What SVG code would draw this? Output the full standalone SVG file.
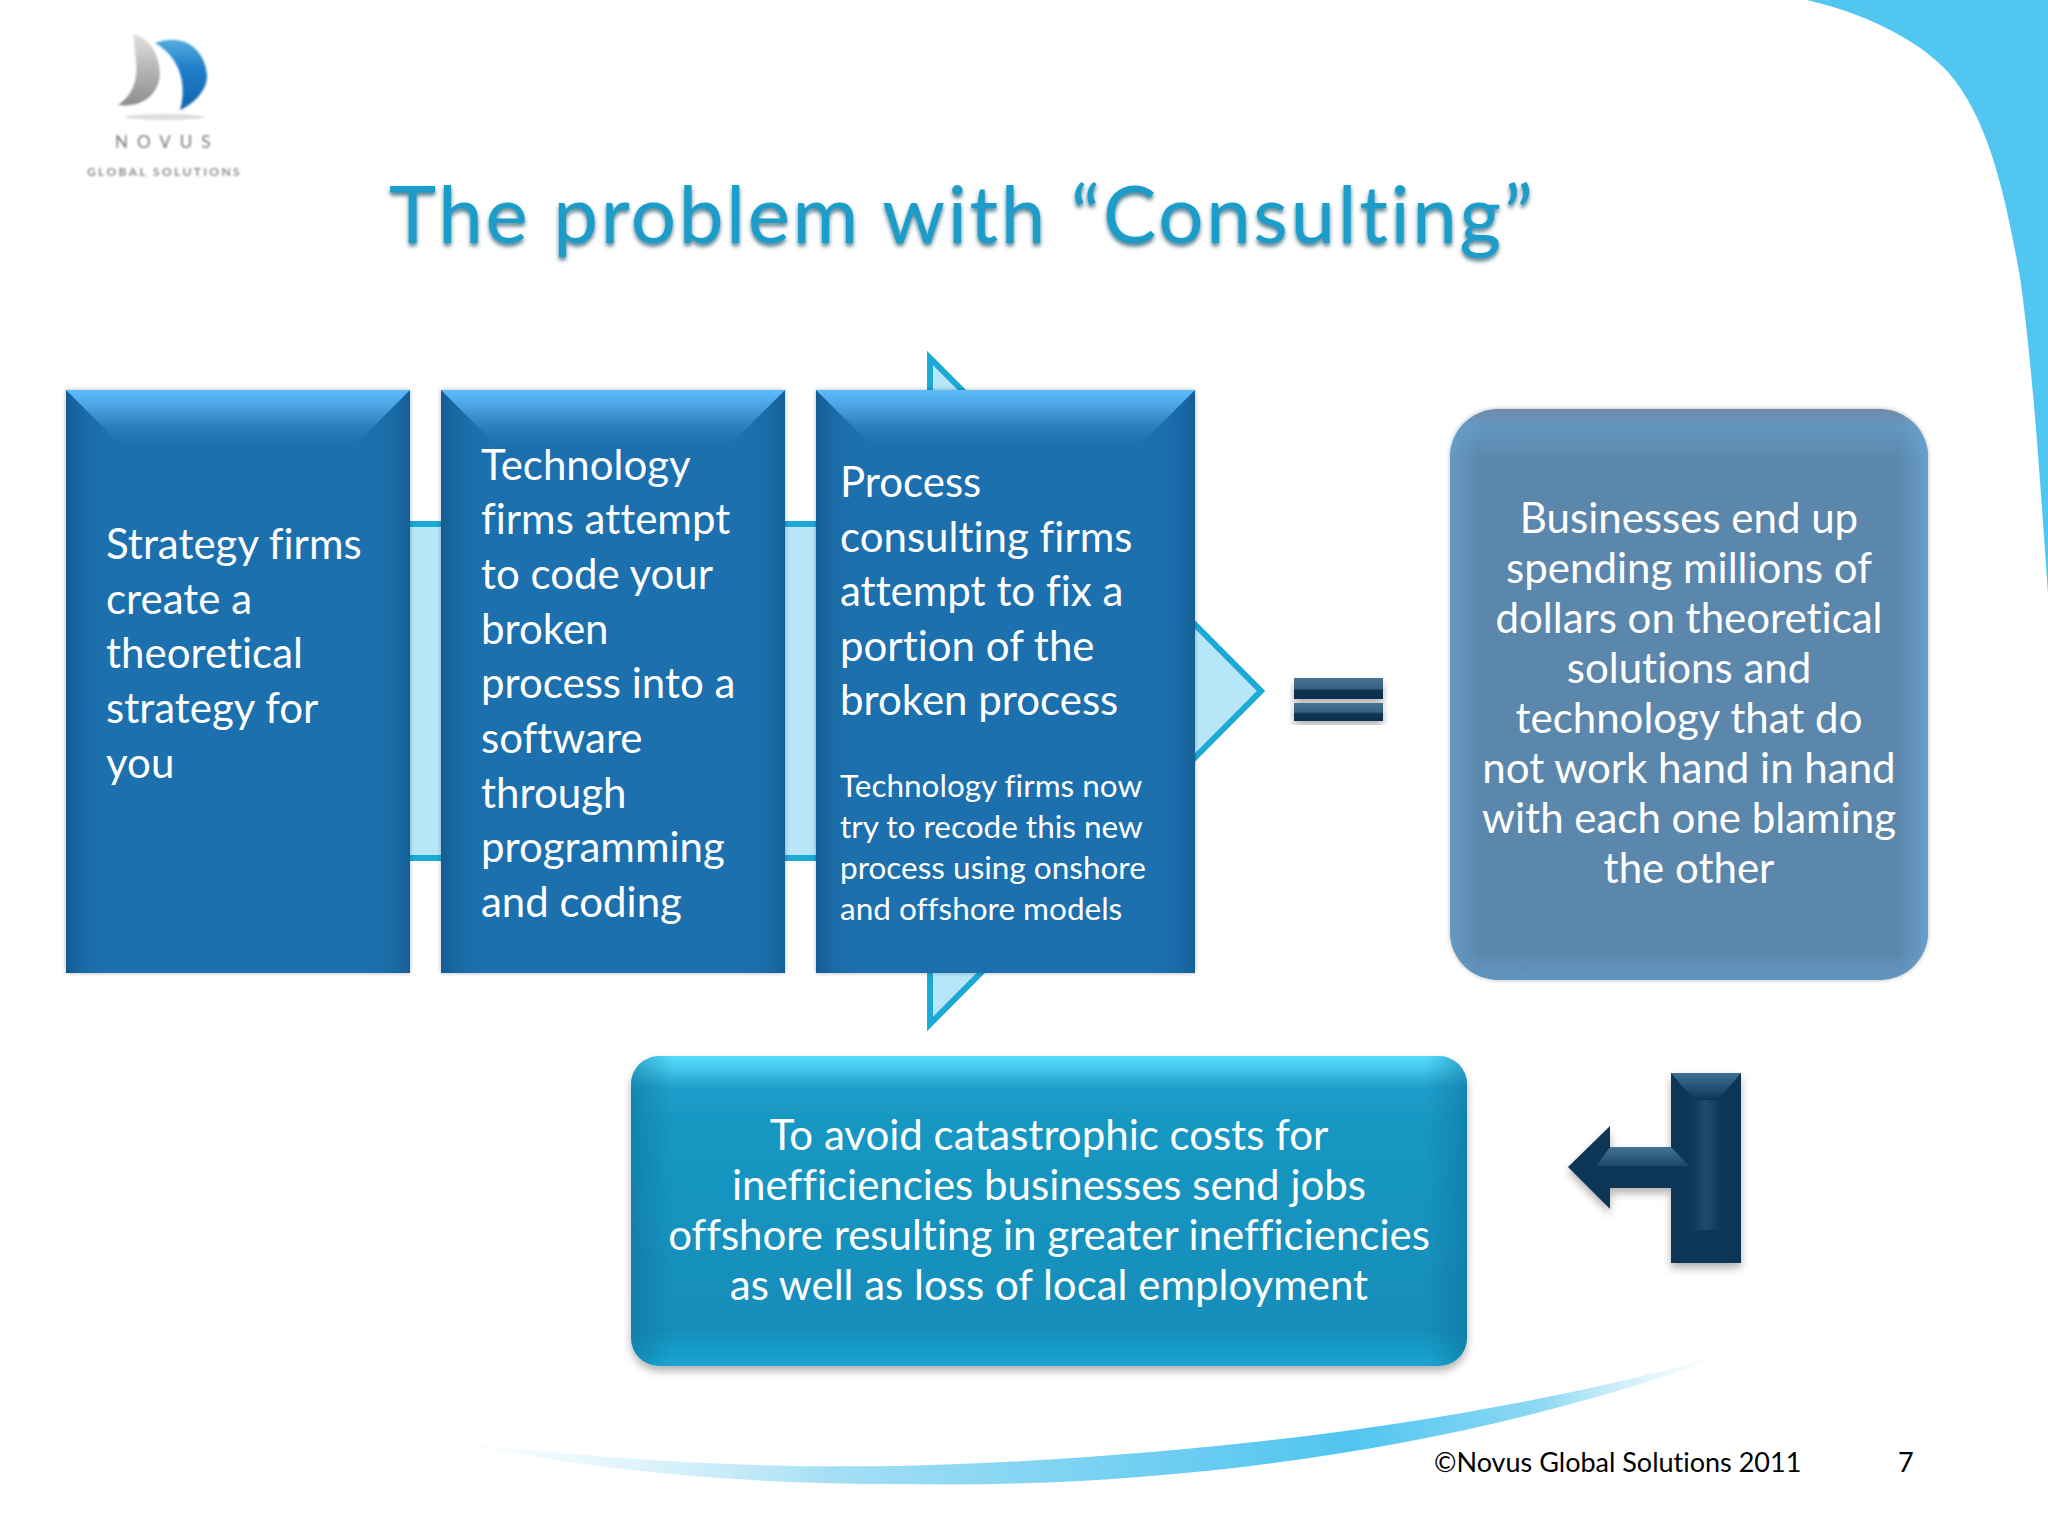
<svg xmlns="http://www.w3.org/2000/svg" width="2048" height="1536" viewBox="0 0 2048 1536">
<defs>
<style>
text{font-family:Lato,"Open Sans",sans-serif;font-variant-ligatures:none}
.w{fill:#fff;font-size:42px}
.s{fill:#fff;font-size:31.5px}
.c{text-anchor:middle}
.f{fill:#000;font-size:27px}
</style>
<linearGradient id="blueTop" x1="0" y1="0" x2="0" y2="1"><stop offset="0" stop-color="#5cbcff"/><stop offset=".3" stop-color="#4aa3e0"/><stop offset=".65" stop-color="#2d80bc"/><stop offset="1" stop-color="#1c6fad"/></linearGradient>
<linearGradient id="edgeL" x1="0" y1="0" x2="1" y2="0"><stop offset="0" stop-color="#0f5486" stop-opacity=".7"/><stop offset="1" stop-color="#1c6fad" stop-opacity="0"/></linearGradient>
<linearGradient id="edgeR" x1="1" y1="0" x2="0" y2="0"><stop offset="0" stop-color="#0f5486" stop-opacity=".6"/><stop offset="1" stop-color="#1c6fad" stop-opacity="0"/></linearGradient>
<linearGradient id="teal" x1="0" y1="0" x2="0" y2="1"><stop offset="0" stop-color="#55dcff"/><stop offset=".035" stop-color="#47cbf0"/><stop offset=".1" stop-color="#1f9fcb"/><stop offset=".2" stop-color="#1898c3"/><stop offset=".88" stop-color="#138dba"/><stop offset="1" stop-color="#1ba6d2"/></linearGradient>
<linearGradient id="slate" x1="0" y1="0" x2="0" y2="1"><stop offset="0" stop-color="#6f8ca8"/><stop offset=".03" stop-color="#6397bf"/><stop offset=".09" stop-color="#5b87ad"/><stop offset=".95" stop-color="#5b87ad"/><stop offset="1" stop-color="#6296c0"/></linearGradient>
<linearGradient id="sideLight" x1="0" y1="0" x2="1" y2="0"><stop offset="0" stop-color="#6ba6d2" stop-opacity=".6"/><stop offset=".06" stop-color="#6ba6d2" stop-opacity="0"/><stop offset=".94" stop-color="#6ba6d2" stop-opacity="0"/><stop offset="1" stop-color="#6ba6d2" stop-opacity=".8"/></linearGradient>
<linearGradient id="sideDark" x1="0" y1="0" x2="1" y2="0"><stop offset="0" stop-color="#0d6f98" stop-opacity=".5"/><stop offset=".05" stop-color="#0d6f98" stop-opacity="0"/><stop offset=".95" stop-color="#0d6f98" stop-opacity="0"/><stop offset="1" stop-color="#0d6f98" stop-opacity=".5"/></linearGradient>
<linearGradient id="navyTop" x1="0" y1="0" x2="0" y2="1"><stop offset="0" stop-color="#3d7195"/><stop offset="1" stop-color="#0f3555"/></linearGradient>
<linearGradient id="navyBar" x1="0" y1="0" x2="0" y2="1"><stop offset="0" stop-color="#497292"/><stop offset=".5" stop-color="#36607e"/><stop offset=".6" stop-color="#0f3454"/><stop offset="1" stop-color="#0d2e4d"/></linearGradient>
<linearGradient id="navyShaft" x1="0" y1="0" x2="0" y2="1"><stop offset="0" stop-color="#447493"/><stop offset="1" stop-color="#1d4868"/></linearGradient>
<linearGradient id="navyGlow" x1="0" y1="0" x2="1" y2="0"><stop offset="0" stop-color="#3d6f90" stop-opacity="0"/><stop offset=".5" stop-color="#3d6f90" stop-opacity=".4"/><stop offset="1" stop-color="#3d6f90" stop-opacity="0"/></linearGradient>
<linearGradient id="swoosh" gradientUnits="userSpaceOnUse" x1="440" y1="0" x2="1740" y2="0"><stop offset="0" stop-color="#d8f1fb" stop-opacity="0"/><stop offset=".3" stop-color="#a5dff5"/><stop offset=".7" stop-color="#50c5f0"/><stop offset=".85" stop-color="#8fd9f4"/><stop offset="1" stop-color="#e4f6fc" stop-opacity="0"/></linearGradient>
<linearGradient id="grey" x1="0" y1="0" x2="0" y2="1"><stop offset="0" stop-color="#e2e2e2"/><stop offset=".5" stop-color="#b5b5b5"/><stop offset="1" stop-color="#8d8d8d"/></linearGradient>
<linearGradient id="blueLogo" x1="0" y1="0" x2="0" y2="1"><stop offset="0" stop-color="#55acdf"/><stop offset=".4" stop-color="#2180c9"/><stop offset="1" stop-color="#1263ae"/></linearGradient>
<filter id="shadow" x="-5%" y="-5%" width="110%" height="112%"><feDropShadow dx="0" dy="5" stdDeviation="4" flood-color="#000" flood-opacity=".3"/></filter>
<filter id="rim" x="-5%" y="-5%" width="110%" height="112%"><feDropShadow dx="0" dy="0" stdDeviation="2" flood-color="#000" flood-opacity=".3"/></filter>
<filter id="titleShadow" x="-3%" y="-10%" width="106%" height="130%"><feDropShadow dx="0" dy="3" stdDeviation="2" flood-color="#0c4a63" flood-opacity=".75"/></filter>
<filter id="blur"><feGaussianBlur stdDeviation="1.1"/></filter>
</defs>
<rect width="2048" height="1536" fill="#fff"/>
<path id="corner-swoosh" d="M1807 0C1860 12 1917 38 1948 72C1990 120 2006 200 2020 277C2033 370 2040 480 2048 594V0Z" fill="#50c6f1"/>
<path id="bottom-swoosh" d="M440 1440C620 1462 760 1468 900 1466C1200 1458 1500 1420 1740 1350C1500 1440 1200 1490 900 1484C740 1484 600 1472 440 1440Z" fill="url(#swoosh)"/>
<g id="logo">
<g filter="url(#blur)">
<path d="M133 34C150 38 160 55 160 75C158 95 142 108 118 105C133 95 138 80 136 60C135 50 134 42 133 34Z" fill="url(#grey)"/>
<path d="M155 43C185 32 205 50 207 75C208 92 190 106 180 110C186 90 184 60 155 43Z" fill="url(#blueLogo)"/>
<ellipse cx="165" cy="117" rx="40" ry="3" fill="#ddd"/>
<text x="115" y="148" font-size="17" fill="#777" letter-spacing="9">NOVUS</text>
<text x="87" y="176" font-size="12" font-weight="700" fill="#8a8a8a" letter-spacing="2.4">GLOBAL SOLUTIONS</text>
</g>
</g>
<text id="title" x="389" y="243" font-size="80" fill="#1a9cc8" filter="url(#titleShadow)" textLength="1144">The problem with “Consulting”</text>
<g id="connectors">
<path id="process-arrow" d="M300 524H930V358L1261 691L930 1024V858H300Z" fill="#b7e6f9" stroke="#1ba9d6" stroke-width="6"/>
</g>
<g id="box-strategy">
<g filter="url(#rim)"><rect x="66" y="390" width="344" height="583" fill="#1c6fad"/></g>
<rect x="66" y="390" width="40" height="583" fill="url(#edgeL)"/><rect x="370" y="390" width="40" height="583" fill="url(#edgeR)"/>
<path d="M66 390H410L355 445H121Z" fill="url(#blueTop)"/>
<text class="w"><tspan x="106" y="559">Strategy firms</tspan><tspan x="106" y="614">create a</tspan><tspan x="106" y="668">theoretical</tspan><tspan x="106" y="723">strategy for</tspan><tspan x="106" y="778">you</tspan></text>
</g>
<g id="box-technology">
<g filter="url(#rim)"><rect x="441" y="390" width="344" height="583" fill="#1c6fad"/></g>
<rect x="441" y="390" width="40" height="583" fill="url(#edgeL)"/><rect x="745" y="390" width="40" height="583" fill="url(#edgeR)"/>
<path d="M441 390H785L730 445H496Z" fill="url(#blueTop)"/>
<text class="w"><tspan x="481" y="480">Technology</tspan><tspan x="481" y="534">firms attempt</tspan><tspan x="481" y="589">to code your</tspan><tspan x="481" y="644">broken</tspan><tspan x="481" y="698">process into a</tspan><tspan x="481" y="753">software</tspan><tspan x="481" y="808">through</tspan><tspan x="481" y="862">programming</tspan><tspan x="481" y="917">and coding</tspan></text>
</g>
<g id="box-process">
<g filter="url(#rim)"><rect x="816" y="390" width="379" height="583" fill="#1c6fad"/></g>
<rect x="816" y="390" width="40" height="583" fill="url(#edgeL)"/><rect x="1155" y="390" width="40" height="583" fill="url(#edgeR)"/>
<path d="M816 390H1195L1140 445H871Z" fill="url(#blueTop)"/>
<text class="w"><tspan x="840" y="497">Process</tspan><tspan x="840" y="552">consulting firms</tspan><tspan x="840" y="606">attempt to fix a</tspan><tspan x="840" y="661">portion of the</tspan><tspan x="840" y="715">broken process</tspan></text>
<text class="s"><tspan x="840" y="797">Technology firms now</tspan><tspan x="840" y="838">try to recode this new</tspan><tspan x="840" y="879">process using onshore</tspan><tspan x="840" y="920">and offshore models</tspan></text>
</g>
<g id="equals" filter="url(#shadow)">
<rect x="1294" y="678" width="89" height="21" fill="url(#navyBar)"/>
<rect x="1294" y="703" width="89" height="18" fill="url(#navyBar)"/>
</g>
<g id="box-outcome">
<g filter="url(#rim)"><rect x="1450" y="409" width="478" height="571" rx="48" fill="url(#slate)"/></g>
<rect x="1450" y="409" width="478" height="571" rx="48" fill="url(#sideLight)"/>
<text class="w c"><tspan x="1689" y="533">Businesses end up</tspan><tspan x="1689" y="583">spending millions of</tspan><tspan x="1689" y="633">dollars on theoretical</tspan><tspan x="1689" y="683">solutions and</tspan><tspan x="1689" y="733">technology that do</tspan><tspan x="1689" y="783">not work hand in hand</tspan><tspan x="1689" y="833">with each one blaming</tspan><tspan x="1689" y="883">the other</tspan></text>
</g>
<g id="box-offshore">
<g filter="url(#shadow)"><rect x="631" y="1056" width="836" height="310" rx="28" fill="url(#teal)"/></g>
<rect x="631" y="1056" width="836" height="310" rx="28" fill="url(#sideDark)"/>
<text class="w c"><tspan x="1049" y="1150">To avoid catastrophic costs for</tspan><tspan x="1049" y="1200">inefficiencies businesses send jobs</tspan><tspan x="1049" y="1250">offshore resulting in greater inefficiencies</tspan><tspan x="1049" y="1300">as well as loss of local employment</tspan></text>
</g>
<g id="return-arrow">
<g filter="url(#shadow)"><path d="M1671 1073H1741V1263H1671V1188H1610V1209L1568 1167L1610 1126V1147H1671Z" fill="#0f3454"/></g>
<path d="M1671 1073H1741L1718 1100H1694Z" fill="url(#navyTop)"/>
<rect x="1690" y="1100" width="32" height="130" fill="url(#navyGlow)"/>
<path d="M1610 1147H1671L1689 1166H1596Z" fill="url(#navyShaft)"/>
</g>
<g id="footer">
<text class="f" x="1434" y="1472">©Novus Global Solutions 2011</text>
<text class="f" x="1898" y="1472">7</text>
</g>
</svg>
